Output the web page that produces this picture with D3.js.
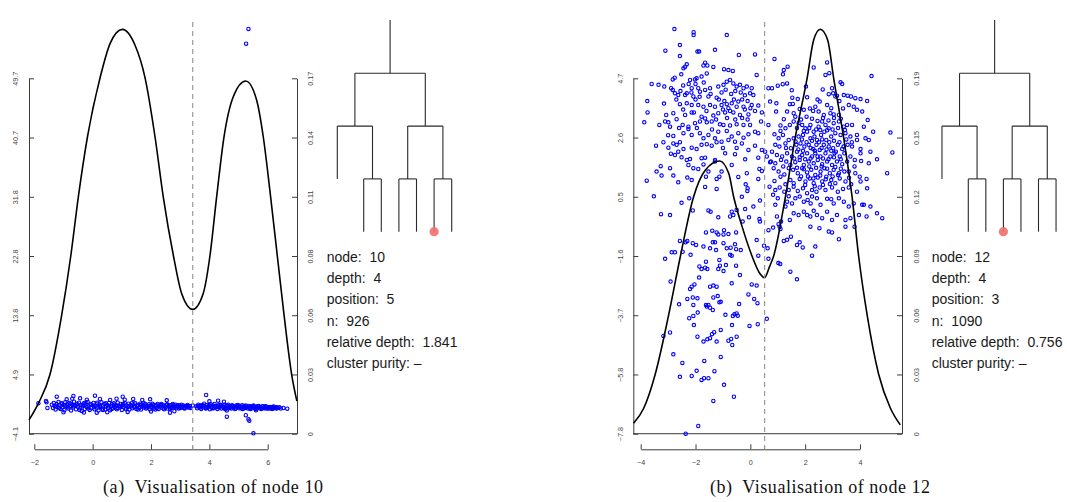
<!DOCTYPE html>
<html><head><meta charset="utf-8">
<script src="https://cdn.jsdelivr.net/npm/d3@7"></script>
<style>body{margin:0;background:#fff}svg{display:block}</style>
</head><body><svg id="c" width="1067" height="502"></svg>
<script>
// ---------------- data ----------------
const xTicksA = [-2, 0, 2, 4, 6];
const yLabelsA = ["\u22124.1","4.9","13.8","22.8","31.8","40.7","49.7"];
const densLabelsA = ["0","0.03","0.06","0.08","0.11","0.14","0.17"];
const yRangeA = [-4.1, 49.7];
const densMaxA = 0.17;
const splitA = 3.43;

const xTicksB = [-4, -2, 0, 2, 4];
const yLabelsB = ["\u22127.8","\u22125.8","\u22123.7","\u22121.6","0.5","2.6","4.7"];
const densLabelsB = ["0","0.03","0.06","0.09","0.12","0.15","0.19"];
const yRangeB = [-7.8, 4.7];
const densMaxB = 0.19;
const splitB = 0.52;

const infoLabels = ["node:  ","depth:  ","position:  ","n:  ","relative depth:  ","cluster purity: "];
const infoA = ["10","4","5","926","1.841","\u2013"];
const infoB = ["12","4","3","1090","0.756","\u2013"];
const captionA = "(a)  Visualisation of node 10";
const captionB = "(b)  Visualisation of node 12";

const treeShape = {children:[
  {children:[{}, {children:[{},{}]}]},
  {children:[{children:[{},{}]}, {children:[{},{}]}]}
]};
const highlightA = 5, highlightB = 3;

const densA = [[-2.18,0.0066],[-1.86,0.0145],[-1.46,0.0284],[-1.06,0.0568],[-0.75,0.0850],[-0.49,0.1133],[-0.18,0.1418],[0.25,0.170],[0.60,0.1867],[1.02,0.1934],[1.45,0.1859],[1.80,0.170],[2.14,0.1418],[2.42,0.1133],[2.77,0.0850],[3.05,0.0671],[3.43,0.0595],[3.79,0.0671],[4.02,0.0850],[4.25,0.1133],[4.50,0.1418],[4.82,0.1612],[5.25,0.1687],[5.62,0.1596],[5.85,0.1418],[6.10,0.1133],[6.33,0.0850],[6.56,0.0568],[6.82,0.0284],[7.00,0.0156]];

const densB = [[-4.26,0.0056],[-3.89,0.0136],[-3.47,0.0318],[-2.98,0.0635],[-2.55,0.0950],[-2.07,0.1267],[-1.64,0.1410],[-1.12,0.1458],[-0.79,0.1392],[-0.61,0.1267],[-0.30,0.1107],[0.06,0.0950],[0.34,0.0858],[0.52,0.0834],[0.70,0.0893],[0.85,0.0950],[1.28,0.1267],[1.64,0.1585],[2.07,0.1900],[2.31,0.2105],[2.55,0.2162],[2.82,0.2105],[3.04,0.1900],[3.40,0.1585],[3.71,0.1267],[3.95,0.0950],[4.26,0.0635],[4.68,0.0318],[5.11,0.0136],[5.47,0.0047]];

const bandA = [[-1.40,0.30],[-1.36,-0.20],[-1.33,0.55],[-1.30,0.05],[-1.27,-0.45],[-1.24,0.40],[-1.20,-0.05],[-1.17,0.70],[-1.14,0.20],[-1.10,-0.35],[-1.07,0.50],[-1.04,-0.10],[-1.00,0.25],[-0.97,-0.55],[-0.94,0.65],[-0.90,0.00],[-0.87,0.35],[-0.84,-0.30],[-0.80,0.55],[-0.77,0.10],[-0.74,-0.60],[-0.70,0.30],[-0.67,-0.15],[-0.64,0.75],[-0.60,0.15],[-0.57,-0.40],[-0.54,0.45],[-0.50,-0.05],[-0.47,0.60],[-0.44,-0.25],[-0.40,0.25],[-0.37,-0.65],[-0.34,0.05],[-0.30,0.50],[-0.27,-0.35],[-0.24,0.35],[-0.20,-0.10],[-0.17,0.70],[-0.14,0.00],[-0.10,-0.50],[-0.07,0.40],[-0.04,-0.20],[0.00,0.20],[0.03,0.55],[0.06,-0.40],[0.10,0.10],[0.13,-0.15],[0.16,0.45],[0.20,-0.60],[0.23,0.30],[0.26,-0.05],[0.30,0.65],[0.33,-0.30],[0.36,0.15],[0.40,0.40],[0.43,-0.45],[0.46,0.00],[0.50,0.25],[0.53,-0.20],[0.56,0.55],[0.60,-0.55],[0.63,0.10],[0.66,0.35],[0.70,-0.25],[0.73,0.50],[0.76,-0.05],[0.80,0.20],[0.83,-0.40],[0.86,0.60],[0.90,0.05],[0.93,-0.15],[0.96,0.40],[1.00,-0.50],[1.03,0.25],[1.06,0.00],[1.10,0.55],[1.13,-0.30],[1.16,0.15],[1.20,-0.05],[1.23,0.45],[1.26,-0.45],[1.30,0.20],[1.33,0.05],[1.36,-0.25],[1.40,0.35],[1.43,-0.10],[1.46,0.50],[1.50,-0.35],[1.53,0.10],[1.56,0.30],[1.60,-0.20],[1.63,0.45],[1.66,-0.45],[1.70,0.00],[1.73,0.25],[1.76,-0.15],[1.80,0.40],[1.83,-0.30],[1.86,0.10],[1.90,-0.05],[1.93,0.35],[1.96,-0.40],[2.00,0.20],[2.03,-0.10],[2.06,0.30],[2.10,-0.30],[2.13,0.05],[2.16,0.25],[2.20,-0.20],[2.23,0.40],[2.26,-0.35],[2.30,0.00],[2.33,0.20],[2.36,-0.15],[2.40,0.30],[2.43,-0.25],[2.46,0.10],[2.50,-0.05],[2.53,0.25],[2.56,-0.30],[2.60,0.15],[2.63,-0.10],[2.66,0.20],[2.70,-0.20],[2.73,0.05],[2.76,0.25],[2.80,-0.15],[2.83,0.10],[2.86,-0.25],[2.90,0.15],[2.93,-0.05],[2.96,0.20],[3.00,-0.20],[3.03,0.05],[3.06,-0.10],[3.10,0.15],[3.13,-0.20],[3.16,0.00],[3.20,0.10],[3.23,-0.15],[3.26,0.05],[3.30,-0.10],[3.33,0.10],
[-1.25,0.10],[-1.15,-0.20],[-1.05,0.45],[-0.95,0.15],[-0.85,-0.10],[-0.75,0.45],[-0.65,0.05],[-0.55,0.30],[-0.45,-0.50],[-0.35,0.20],[-0.25,0.60],[-0.15,-0.30],[-0.05,0.30],[0.05,-0.10],[0.15,0.60],[0.25,0.10],[0.35,-0.50],[0.45,0.50],[0.55,0.05],[0.65,-0.35],[0.75,0.30],[0.85,-0.20],[0.95,0.10],[1.05,0.40],[1.15,-0.40],[1.25,0.05],[1.35,0.55],[1.45,0.00],[1.55,-0.45],[1.65,0.20],[1.75,0.55],[1.85,-0.15],[1.95,0.05],[2.05,0.45],[2.15,-0.45],[2.25,0.15],[2.35,0.40],[2.45,-0.40],[2.55,0.35],[2.65,-0.35],[2.75,0.40],[2.85,0.30],[2.95,-0.30],[3.05,0.30],[3.15,-0.30],[3.25,0.25],[3.35,-0.20],[3.43,0.15],
[3.55,0.05],[3.58,-0.25],[3.62,0.30],[3.65,-0.05],[3.68,0.15],[3.72,-0.35],[3.75,0.20],[3.78,-0.10],[3.82,0.45],[3.85,0.00],[3.88,-0.30],[3.92,0.25],[3.95,-0.15],[3.98,0.10],[4.02,-0.40],[4.05,0.35],[4.08,-0.05],[4.12,0.15],[4.15,-0.25],[4.18,0.40],[4.22,-0.10],[4.25,0.05],[4.28,-0.35],[4.32,0.20],[4.35,-0.15],[4.38,0.30],[4.42,-0.30],[4.45,0.05],[4.48,-0.05],[4.52,0.25],[4.55,-0.40],[4.58,0.10],[4.62,-0.20],[4.65,0.30],[4.68,-0.10],[4.72,0.05],[4.75,-0.30],[4.78,0.20],[4.82,-0.15],[4.85,0.00],[4.88,-0.35],[4.92,0.15],[4.95,-0.10],[4.98,0.25],[5.02,-0.25],[5.05,0.05],[5.08,-0.15],[5.12,0.20],[5.15,-0.35],[5.18,0.00],[5.22,-0.20],[5.25,0.15],[5.28,-0.10],[5.32,-0.30],[5.35,0.10],[5.38,-0.15],[5.42,0.05],[5.45,-0.30],[5.48,-0.05],[5.52,0.15],[5.55,-0.20],[5.58,-0.35],[5.62,0.00],[5.65,-0.15],[5.68,0.10],[5.72,-0.25],[5.75,-0.05],[5.78,-0.35],[5.82,0.05],[5.85,-0.20],[5.88,-0.10],[5.92,-0.30],[5.95,0.00],[5.98,-0.20],[6.02,-0.10],[6.05,-0.30],[6.08,-0.05],[6.12,-0.20],[6.15,-0.35],[6.18,-0.10],[6.22,-0.25],[6.25,-0.15],[6.30,-0.30],[6.35,-0.20],[6.40,-0.10],[6.45,-0.30],
[3.60,0.10],[3.70,-0.15],[3.80,0.15],[3.90,-0.20],[4.00,0.20],[4.10,-0.25],[4.20,0.10],[4.30,-0.05],[4.40,0.15],[4.50,-0.20],[4.60,0.20],[4.70,-0.20],[4.80,0.10],[4.90,-0.25],[5.00,0.10],[5.10,-0.30],[5.20,0.10],[5.30,-0.05],[5.40,-0.35],[5.50,0.05],[5.60,-0.10],[5.70,0.00],[5.80,-0.25],[5.90,0.05],[6.00,-0.30],[6.10,-0.15],[6.20,0.00],[6.30,-0.10],
[-0.89,1.10],[-0.70,1.20],[-0.43,1.25],[-0.20,1.05],[0.25,1.15],[0.60,1.00],[0.82,1.20],[1.10,1.05],[1.39,1.15],[1.70,1.00],[1.97,1.10],[2.54,0.95],[4.00,0.80],[4.30,0.90],[4.50,0.75],
[-1.00,-0.85],[-0.30,-0.90],[0.50,-0.85],[1.20,-0.80],[2.00,-0.75],[2.80,-0.70],[4.60,-0.60],[5.60,-0.55]];

const outliersA = [[-1.86,0.51],[-1.60,0.85],[-1.58,0.66],[-1.55,-0.21],[-1.23,1.51],[-0.66,1.61],[0.08,1.66],[1.03,1.51],[0.14,-0.92],[2.65,-0.92],[3.89,1.76],[4.60,-1.52],[5.25,-1.31],[5.34,-1.92],[5.37,-2.13],[5.51,-4.04],[6.54,-0.21],[6.67,-0.31],[5.34,57.17],[5.26,54.94]];

const upperLeftB = [[-2.77,6.43],[-2.07,6.32],[-2.07,6.22],[-0.86,6.22],[-3.10,5.67],[-2.57,5.87],[-1.93,5.64],[-1.87,5.64],[-1.29,5.70],[-0.42,5.52],[0.17,5.54],[-2.57,5.48],[-1.65,5.25],[-2.32,5.19],[-2.38,5.11],[-2.44,5.05],[-1.71,5.15],[-1.57,5.15],[-1.35,5.10],[-0.96,5.02],[-0.80,4.99],[-0.64,4.96],[-1.59,4.87],[0.23,4.82],[-2.52,4.84],[-2.76,4.72],[-2.83,4.66],[-3.60,4.50],[-3.35,4.47],[-3.14,4.41],[-2.20,4.64],[-2.02,4.66],[-1.96,4.70],[-1.78,4.76],[-2.89,4.35],[-2.83,4.29],[-2.75,4.17],[-2.63,4.11],[-2.38,4.11],[-2.32,4.17],[-2.08,4.06],[-2.14,4.35],[-1.90,4.35],[-1.84,4.23],[-1.65,4.29],[-1.47,4.35],[-1.53,4.06],[-1.23,4.02],[-1.17,4.41],[-0.98,4.47],[-0.86,4.58],[-0.74,4.64],[-0.62,4.52],[-0.50,4.41],[-0.38,4.47],[-0.25,4.35],[-0.13,4.41],[0.05,4.35],[-0.01,4.17],[0.11,4.11],[0.66,4.35],[0.72,3.88],
[-3.76,3.90],[-3.15,3.81],[-2.57,3.79],[-2.32,3.82],[-2.14,3.76],[-1.90,3.76],[-1.71,3.70],[-1.47,3.76],[-1.29,3.70],[-1.05,3.76],[-0.86,3.79],[-0.68,3.82],[-0.44,3.88],[-0.25,3.70],[0.05,3.76],[0.29,3.74],
[-3.75,3.50],[-3.07,3.41],[-2.81,3.47],[-2.38,3.41],[-2.14,3.50],[-2.06,3.50],[-1.78,3.35],[-1.65,3.29],[-1.35,3.39],[-1.17,3.47],[-0.92,3.50],[-0.74,3.55],[-0.62,3.50],[-0.38,3.41],[-0.07,3.43],[0.17,3.55],[0.42,3.50],
[-3.87,3.15],[-3.32,3.06],[-3.11,3.18],[-2.99,3.15],[-2.93,3.00],[-2.69,3.26],[-2.47,3.06],[-2.26,3.00],[-2.02,3.12],[-1.84,3.18],[-1.59,3.15],[-1.41,3.18],[-1.11,3.08],[-0.98,3.06],[-0.74,3.04],[-0.50,3.08],[-0.25,3.06],[-0.01,3.06],[0.39,3.18],[0.66,3.06],
[-2.81,2.67],[-2.44,2.77],[-2.26,2.92],[-2.14,2.71],[-1.84,2.77],[-1.71,2.59],[-1.53,2.71],[-1.29,2.59],[-1.17,2.82],[-0.86,2.85],[-0.68,2.65],[-0.44,2.77],[-0.25,2.61],[-0.07,2.73],[0.17,2.82],[0.29,2.77],
[-3.44,2.33],[-3.17,2.45],[-2.99,2.26],[-2.81,2.41],[-2.69,2.36],[-2.57,2.45],[-2.44,2.21],[-2.14,2.26],[-1.96,2.21],[-1.78,2.36],[-1.59,2.38],[-1.41,2.33],[-1.23,2.45],[-1.05,2.47],[-0.80,2.53],[-0.56,2.47],[-0.31,2.41],[-0.07,2.18],[0.17,2.33],[0.42,2.18],[0.54,2.12],
[-2.75,2.00],[-2.63,2.12],[-2.51,1.92],[-2.32,1.83],[-2.20,1.86],[-1.78,1.89],[-1.65,1.91],[-1.29,1.83],[-0.92,2.06],[-0.56,2.03],[-0.19,1.85],[0.29,1.91],[0.60,1.95],[0.72,1.75],
[-3.27,1.61],[-2.93,1.54],[-2.26,1.65],[-2.08,1.54],[-1.90,1.51],[-1.71,1.67],[-1.29,1.77],[-1.53,1.42],[-1.05,1.42],[-0.68,1.65],[-0.13,1.36],[0.33,1.51],[0.42,1.44],
[-2.81,1.28],[-3.42,1.42],[-3.78,1.10],[-3.24,1.28],[-2.63,1.04],[-2.30,1.21],[-2.14,1.12],[-1.62,1.24],[-1.23,1.16],[-1.13,1.24],[-0.44,1.23],[-0.17,0.97],[-0.10,0.83],[-0.11,0.74],[0.29,1.16],[0.70,0.89],[-1.65,0.88],[-1.23,0.81],
[-3.52,0.55],[-2.51,0.32],[-2.23,0.48],[-0.31,0.53],[0.35,0.40],[0.11,0.19],[-0.19,0.10],[-2.10,0.05],[-1.53,0.05],[-1.45,0.01],[-0.68,0.01],[-0.62,-0.11],[-0.50,0.07],[-3.26,-0.08],[-2.93,-0.11],[-1.17,-0.19],[-0.74,-0.16],[-0.05,-0.19],[0.33,-0.25],[0.35,-0.34],[-0.28,-0.34],
[-1.05,4.20],[-0.90,4.30],[-0.70,4.15],[-0.55,4.25],[-0.35,4.20],[-0.20,4.10],[-1.15,3.95],[-0.95,3.90],[-0.60,3.95],[-0.30,3.95],[-0.10,3.90],[-1.00,3.60],[-0.80,3.65],[-0.50,3.70],[-0.20,3.60],[0.00,3.65],[-1.25,3.25],[-0.85,3.30],[-0.55,3.25],[-0.30,3.30],[-0.10,3.25],[-2.45,4.45],[-2.25,4.50],[-2.00,4.50],[-1.70,4.55],[-2.55,4.25],[-2.15,4.20],[-1.85,4.05],[-1.45,4.15],[-2.70,3.95],[-2.45,3.60],[-2.00,3.95],[-1.60,3.55],[-1.40,2.90],[-1.95,2.95],[-2.60,2.95],[-3.00,2.70],[-2.90,2.05],[-1.00,2.25],[-0.50,2.25]];

const lowerLeftB = [[-1.62,-0.72],[-1.39,-0.66],[-1.23,-0.72],[-1.17,-0.79],[-0.96,-0.64],[-0.98,-0.79],[-0.80,-0.78],[-0.52,-0.72],[0.23,-0.99],[0.66,-0.64],[-2.57,-1.02],[-2.36,-1.07],[-2.30,-1.02],[-2.10,-1.10],[-1.98,-1.16],[-1.71,-1.22],[-1.47,-1.28],[-1.37,-1.07],[-1.29,-1.07],[-1.25,-1.34],[-0.98,-1.10],[-0.86,-1.28],[-0.72,-1.26],[-0.56,-1.14],[-0.52,-1.31],[-0.35,-1.34],[0.50,-1.19],[0.63,-1.28],[-2.87,-1.42],[-2.75,-1.42],[-2.47,-1.40],[-2.18,-1.51],[-1.62,-1.75],[-1.86,-1.92],[-1.78,-2.01],[-1.65,-1.96],[-1.57,-2.01],[-1.13,-1.69],[-1.11,-1.89],[-1.17,-2.01],[-0.98,-2.08],[-0.89,-1.87],[-0.68,-1.54],[-0.74,-1.51],[-0.52,-1.89],[-0.38,-2.22],[0.29,-1.54],[0.66,-1.65],[-3.11,-1.65],[-2.91,-2.45],[-2.04,-2.55],[-2.14,-2.63],[-2.20,-2.71],[-1.87,-2.31],[-1.47,-2.63],[-1.35,-2.59],[-1.23,-2.63],[-0.68,-2.51],[0.05,-2.55],[0.23,-2.59],[-0.07,-2.90],[0.14,-3.06],[0.26,-3.21],[-2.60,-3.25],[-2.30,-3.06],[-2.10,-3.01],[-2.08,-3.27],[-1.93,-3.04],[-1.62,-3.27],[-1.53,-3.27],[-1.47,-3.37],[-1.37,-3.45],[-1.35,-3.01],[-1.19,-2.96],[-1.13,-3.18],[-1.08,-3.16],[-0.41,-3.24],[-2.23,-3.74],[-2.08,-3.66],[-1.92,-3.54],[-2.06,-3.98],[-1.59,-3.33],[-0.91,-3.62],[-0.64,-3.66],[-0.58,-3.60],[-0.50,-3.57],[-0.46,-3.65],[-0.67,-3.98],[-0.03,-4.01],[0.27,-3.95],[0.60,-3.76],[-3.17,-4.36],[-2.93,-4.24],[-1.93,-4.39],[-1.71,-4.56],[-1.57,-4.48],[-1.47,-4.44],[-1.40,-4.30],[-1.32,-4.23],[-1.23,-4.56],[-1.08,-4.15],[-0.80,-4.53],[-0.70,-4.47],[-0.66,-4.68],[-0.50,-4.39],[-2.81,-5.01],[-2.48,-5.31],[-1.68,-5.24],[-1.08,-5.10],[-2.57,-5.80],[-2.14,-5.77],[-1.96,-5.59],[-1.78,-5.91],[-1.69,-5.85],[-1.53,-5.85],[-1.31,-5.60],[-0.96,-6.08],[-0.60,-6.50],[-1.35,-6.65],[-1.90,-7.53],[-2.36,-7.80]];

const rightB = [[0.88,5.38],[2.31,5.08],[2.80,5.26],[2.74,4.82],[2.88,4.88],[4.42,4.78],[1.22,4.99],[1.19,4.84],[1.36,5.11],[0.79,4.35],[1.00,4.44],[1.18,4.49],[1.34,4.52],[2.03,4.41],[2.64,4.31],[2.98,4.35],[3.02,4.17],[3.29,4.56],[3.35,4.50],[1.51,4.28],[1.53,4.02],[1.44,3.79],[1.73,3.97],[2.07,4.03],[2.53,3.88],[2.86,4.14],[3.10,4.06],[3.16,4.09],[3.41,4.11],[3.55,4.09],[3.67,4.06],[3.83,4.00],[4.02,3.97],[4.26,3.90],[0.95,3.82],[0.94,3.53],[1.22,3.26],[1.34,3.53],[1.58,3.47],[1.64,3.35],[1.80,3.62],[1.95,3.59],[2.17,3.64],[2.29,3.55],[2.37,3.70],[2.49,3.53],[2.68,3.41],[2.80,3.76],[2.92,3.47],[3.04,3.43],[3.23,3.41],[3.38,3.64],[3.59,3.76],[3.77,3.70],[3.89,3.59],[4.08,3.53],[4.28,3.23],
[1.10,3.04],[1.28,2.94],[1.44,3.06],[1.58,3.18],[1.76,3.12],[1.89,3.06],[2.01,2.94],[2.19,3.06],[2.31,2.82],[2.49,3.00],[2.62,3.18],[2.74,3.06],[2.86,2.94],[3.04,3.12],[3.23,3.18],[3.41,3.00],[3.53,3.06],[3.71,3.06],[3.89,2.71],[4.14,3.00],[4.48,2.82],[5.11,2.79],
[0.88,2.73],[1.03,2.59],[1.19,2.71],[1.40,2.53],[1.58,2.59],[1.76,2.65],[1.92,2.71],[2.07,2.82],[2.19,2.59],[2.34,2.65],[2.43,2.53],[2.58,2.71],[2.70,2.82],[2.77,2.53],[2.95,2.65],[3.10,2.77],[3.29,2.71],[3.47,2.77],[3.65,2.65],[3.89,2.53],[4.20,2.59],[4.32,2.53],
[0.91,2.36],[1.06,2.30],[1.28,2.41],[1.48,2.24],[1.68,2.36],[1.83,2.41],[1.97,2.30],[2.13,2.36],[2.29,2.21],[2.41,2.36],[2.53,2.18],[2.68,2.36],[2.86,2.30],[3.02,2.24],[3.19,2.36],[3.35,2.21],[3.55,2.36],[3.71,2.30],[4.02,2.21],[4.38,2.12],[5.18,2.09],
[0.79,2.12],[0.97,2.00],[1.16,1.95],[1.34,2.06],[1.52,1.95],[1.70,2.12],[1.89,2.00],[2.07,2.06],[2.25,1.95],[2.37,2.06],[2.56,1.95],[2.74,2.06],[2.92,1.95],[3.07,2.06],[3.26,1.95],[3.43,2.06],[3.65,1.95],[4.02,2.06],[4.62,1.85],
[0.75,1.77],[0.91,1.71],[1.12,1.83],[1.31,1.77],[1.46,1.65],[1.64,1.75],[1.80,1.83],[1.95,1.65],[2.13,1.77],[2.31,1.71],[2.46,1.83],[2.62,1.68],[2.80,1.77],[2.98,1.65],[3.16,1.77],[3.35,1.68],[3.53,1.77],[3.81,1.83],[4.04,1.79],[4.32,1.71],
[0.85,1.54],[1.03,1.42],[1.24,1.32],[1.40,1.54],[1.56,1.48],[1.73,1.36],[1.89,1.54],[2.07,1.39],[2.22,1.48],[2.37,1.30],[2.56,1.42],[2.70,1.54],[2.90,1.36],[3.04,1.48],[3.23,1.36],[3.43,1.42],[3.59,1.42],[3.83,1.36],[3.99,1.24],[4.24,1.16],[4.99,1.36],
[0.88,1.09],[1.10,1.24],[1.28,0.97],[1.46,1.12],[1.58,1.01],[1.80,1.16],[2.01,1.07],[2.17,1.18],[2.31,1.01],[2.46,1.21],[2.62,1.07],[2.77,1.24],[2.95,1.12],[3.10,1.01],[3.26,1.18],[3.47,1.07],[3.68,0.97],[4.02,1.07],[4.26,0.83],
[0.91,0.77],[1.07,0.86],[1.24,0.71],[1.40,0.77],[1.58,0.89],[1.73,0.74],[1.92,0.83],[2.07,0.66],[2.25,0.77],[2.41,0.71],[2.53,0.86],[2.74,0.77],[2.98,0.86],[3.19,0.71],[3.38,0.81],[3.59,0.86],[3.89,0.71],
[0.83,0.60],[1.00,0.48],[1.28,0.19],[1.34,0.36],[1.52,0.30],[1.64,0.48],[1.80,0.54],[1.95,0.36],[2.09,0.42],[2.25,0.54],[2.43,0.48],[2.56,0.25],[2.80,0.46],[3.04,0.30],[3.23,0.48],[3.41,0.36],[3.59,0.19],[3.77,0.30],[4.08,0.25],[4.38,0.19],[4.14,0.25],[0.91,0.25],
[0.97,-0.16],[1.03,-0.43],[1.07,-0.52],[1.12,-0.34],[1.44,-0.28],[1.58,-0.05],[1.76,-0.11],[1.95,0.01],[2.07,-0.11],[2.19,-0.16],[2.31,0.04],[2.43,-0.11],[2.62,-0.22],[2.80,0.01],[2.98,-0.28],[3.16,-0.11],[3.47,-0.28],[3.65,-0.22],[3.80,-0.52],[3.96,-0.11],[4.24,-0.16],[4.62,-0.05],[4.81,-0.22],
[0.83,-0.55],[1.10,-0.60],[2.19,-0.52],[2.52,-0.57],[2.86,-0.69],[2.98,-0.72],[3.47,-0.52],[1.34,-0.98],[1.22,-1.02],[1.48,-0.87],[1.70,-1.16],[1.80,-1.07],[1.91,-1.25],[2.37,-1.22],[3.23,-0.96],[2.25,-1.54],
[1.02,-1.80],[1.09,-1.83],[1.46,-2.10],[1.70,-2.37],
[1.85,3.25],[2.05,3.35],[2.25,3.28],[2.45,3.20],[2.65,3.30],[2.85,3.22],[3.05,3.30],[3.30,3.28],[1.70,2.95],[1.95,2.85],[2.15,2.95],[2.40,2.90],[2.55,2.88],[2.80,2.87],[3.00,2.90],[3.20,2.95],[3.45,2.88],[1.65,2.48],[1.88,2.55],[2.05,2.45],[2.25,2.50],[2.50,2.45],[2.62,2.55],[2.88,2.45],[3.05,2.50],[3.25,2.45],[3.50,2.55],[1.75,2.20],[1.92,2.15],[2.20,2.25],[2.35,2.15],[2.60,2.25],[2.78,2.20],[2.95,2.15],[3.12,2.12],[3.40,2.30],[1.60,1.88],[1.80,1.92],[2.00,1.85],[2.20,1.88],[2.45,1.95],[2.65,1.88],[2.85,1.85],[3.05,1.92],[3.30,1.85],[1.70,1.55],[1.95,1.50],[2.15,1.60],[2.40,1.55],[2.60,1.60],[2.80,1.52],[3.10,1.58],[3.30,1.52],[1.85,1.25],[2.10,1.25],[2.30,1.18],[2.55,1.28],[2.75,1.15],[3.00,1.25],[3.20,1.30],[2.00,0.95],[2.35,0.90],[2.65,0.95],[2.90,0.98],[1.55,3.80],[2.45,3.95],[2.95,3.65],[3.25,3.90],[1.30,2.25],[1.20,1.60],[1.10,2.85],[3.70,2.45],[3.80,1.60],[3.60,1.20],[1.40,0.55],[2.20,0.30],[2.95,0.45]];

// ---------------- layout (positions only) ----------------
const yTop = 78.3, yBot = 433.7, axisY = 449.3;
const panels = [
  {xTicks:xTicksA, yLabels:yLabelsA, densLabels:densLabelsA, yRange:yRangeA, densMax:densMaxA, split:splitA,
   dens:densA, points:[bandA, outliersA], info:infoA, caption:captionA, highlight:highlightA,
   x0:29, x1:297, xt0:34.3, xt1:267.7, leftLab:15, rightLab:310, slot0:328.5, slot7:451.7, textX:326.7, capX:103},
  {xTicks:xTicksB, yLabels:yLabelsB, densLabels:densLabelsB, yRange:yRangeB, densMax:densMaxB, split:splitB,
   dens:densB, points:[upperLeftB, lowerLeftB, rightB], info:infoB, caption:captionB, highlight:highlightB,
   x0:633.3, x1:902, xt0:640.7, xt1:860, leftLab:620.7, rightLab:916.7, slot0:933.2, slot7:1056.05, textX:931.7, capX:710}
];

const svg = d3.select("#c");
const AX = "#3c3c3c";

panels.forEach(p => {
  const g = svg.append("g");
  const x = d3.scaleLinear().domain([p.xTicks[0], p.xTicks[p.xTicks.length-1]]).range([p.xt0, p.xt1]);
  const y = d3.scaleLinear().domain(p.yRange).range([yBot, yTop]);
  const yd = d3.scaleLinear().domain([0, p.densMax]).range([yBot, yTop]);
  const idx = d3.scaleLinear().domain([0, 6]).range([yBot, yTop]);

  g.append("line").attr("x1", p.x0).attr("x2", p.x1).attr("y1", yBot).attr("y2", yBot)
    .attr("stroke", AX).attr("stroke-width", 1);

  const la = g.append("g").attr("transform", `translate(${p.x0},0)`)
    .call(d3.axisLeft(idx).tickValues(d3.range(7)).tickFormat(i => p.yLabels[i]).tickSize(-5).tickSizeOuter(0));
  const ra = g.append("g").attr("transform", `translate(${p.x1},0)`)
    .call(d3.axisRight(idx).tickValues(d3.range(7)).tickFormat(i => p.densLabels[i]).tickSize(-5).tickSizeOuter(0));
  [[la, p.leftLab - p.x0], [ra, p.rightLab - p.x1]].forEach(([a, off]) => {
    a.select(".domain").attr("stroke", AX);
    a.selectAll(".tick line").attr("stroke", AX);
    a.selectAll(".tick text").attr("transform", "rotate(-90)").attr("x", 0).attr("y", off)
      .attr("dy", "0.35em").attr("text-anchor", "middle")
      .attr("font-family", "Liberation Sans, Arial, sans-serif").attr("font-size", 7.2).attr("fill", "#444");
  });

  const xa = g.append("g").attr("transform", `translate(0,${axisY})`)
    .call(d3.axisBottom(x).tickValues(p.xTicks).tickFormat(v => v < 0 ? "\u2212" + Math.abs(v) : String(v))
      .tickSize(-5).tickSizeOuter(0).tickPadding(11));
  xa.select(".domain").attr("stroke", AX);
  xa.selectAll(".tick line").attr("stroke", AX);
  xa.selectAll(".tick text").attr("font-family", "Liberation Sans, Arial, sans-serif").attr("font-size", 7.2).attr("fill", "#444");
  g.append("line").attr("x1", x(p.split)).attr("x2", x(p.split)).attr("y1", axisY - 2.8).attr("y2", axisY)
    .attr("stroke", "#888").attr("stroke-width", 1);

  p.points.forEach(arr => {
    g.append("g").selectAll("circle").data(arr).join("circle")
      .attr("cx", d => x(d[0])).attr("cy", d => y(d[1])).attr("r", 1.7)
      .attr("fill", "none").attr("stroke", "#0000ff").attr("stroke-width", 1.1);
  });

  g.append("path").datum(p.dens)
    .attr("d", d3.line().x(d => x(d[0])).y(d => yd(d[1])).curve(d3.curveMonotoneX))
    .attr("fill", "none").attr("stroke", "#000").attr("stroke-width", 1.6);

  g.append("line").attr("x1", x(p.split)).attr("x2", x(p.split)).attr("y1", 22).attr("y2", axisY)
    .attr("stroke", "#999").attr("stroke-width", 1.2).attr("stroke-dasharray", "5,4");

  const slot = d3.scaleLinear().domain([0, 7]).range([p.slot0, p.slot7]);
  const level = d3.scaleLinear().domain([0, 3]).range([73.3, 231.7]);
  const root = d3.hierarchy(treeShape);
  root.each(n => {
    n.k = n.parent ? n.parent.k * 2 + n.parent.children.indexOf(n) : 0;
    const span = 8 / Math.pow(2, n.depth);
    n.px = slot(n.k * span + (span - 1) / 2);
    n.py = level(n.depth);
  });
  const tg = g.append("g").attr("stroke", "#2a2a2a").attr("stroke-width", 1.1).attr("fill", "none");
  tg.append("line").attr("x1", root.px).attr("x2", root.px).attr("y1", 20).attr("y2", root.py);
  root.each(n => {
    if (!n.children) return;
    tg.append("line").attr("x1", n.children[0].px).attr("x2", n.children[n.children.length-1].px)
      .attr("y1", n.py).attr("y2", n.py);
    n.children.forEach(c => {
      tg.append("line").attr("x1", c.px).attr("x2", c.px).attr("y1", n.py).attr("y2", c.py);
    });
  });
  const deepLeaves = root.leaves().filter(d => d.depth === 3);
  const hl = deepLeaves[p.highlight - 1];
  g.append("circle").attr("cx", hl.px).attr("cy", hl.py).attr("r", 4.6).attr("fill", "#f26e6e").attr("opacity", 0.9);

  g.append("g").selectAll("text").data(infoLabels).join("text")
    .attr("x", p.textX).attr("y", (d, i) => 262 + i * 21.2)
    .attr("font-family", "Liberation Sans, Arial, sans-serif").attr("font-size", 14).attr("fill", "#1a1a1a")
    .style("white-space", "pre").text((d, i) => d + p.info[i]);

  svg.append("text").attr("x", p.capX).attr("y", 493)
    .attr("font-family", "Liberation Serif, Times New Roman, serif").attr("font-size", 18).attr("fill", "#111")
    .style("white-space", "pre").attr("textLength", 220).attr("lengthAdjust", "spacing").text(p.caption);
});
</script></body></html>
